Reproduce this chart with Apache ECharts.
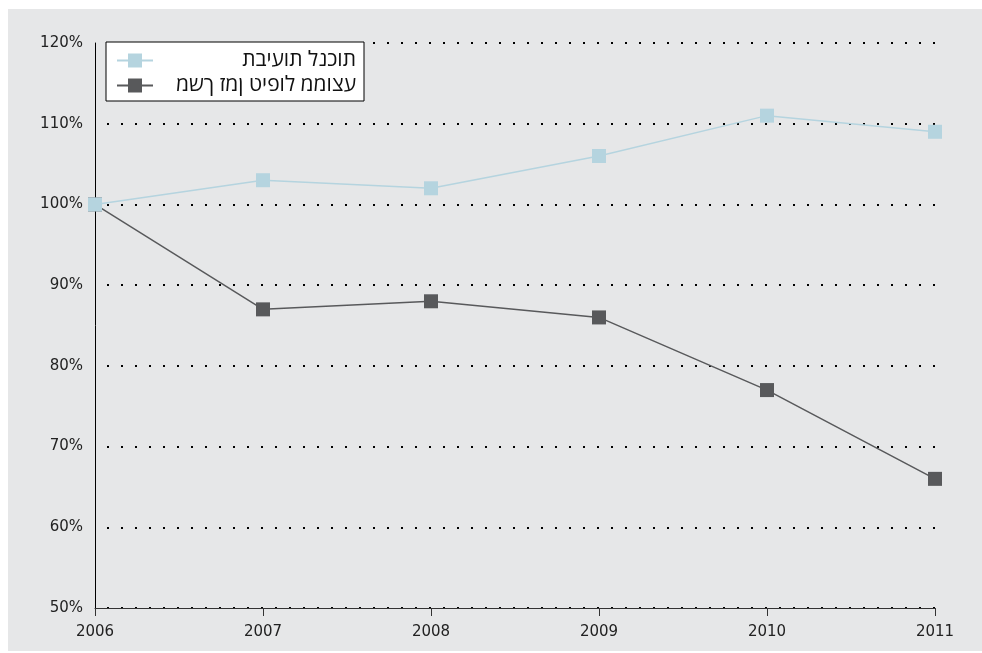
<!DOCTYPE html>
<html>
<head>
<meta charset="utf-8">
<script src="https://cdn.jsdelivr.net/npm/echarts@6/dist/echarts.min.js"></script>
<style>
  html, body { margin: 0; padding: 0; background: #fff; }
  #chart { position: absolute; left: 8px; top: 9px; width: 974px; height: 642px; background: #e6e7e8; }
</style>
</head>
<body>
<div id="chart"></div>
<script>
// נתונים
var years = ['2006', '2007', '2008', '2009', '2010', '2011'];
var claimsName = 'תביעות לנכות';
var durationName = 'משך זמן טיפול ממוצע';
var claims = [100, 103, 102, 106, 111, 109];
var duration = [100, 87, 88, 86, 77, 66];

var chart = echarts.init(document.getElementById('chart'));
chart.setOption({
  animation: false,
  textStyle: { fontFamily: 'DejaVu Sans' },
  grid: { left: 87, right: 47, top: 34, bottom: 43 },
  legend: {
    left: 98, top: 33,
    orient: 'vertical',
    data: [claimsName, durationName],
    backgroundColor: '#fff',
    borderColor: '#000',
    borderWidth: 1,
    borderRadius: 0,
    padding: [8, 8, 5, 10],
    itemWidth: 36,
    itemHeight: 17.5,
    itemGap: 4,
    // same glyph order as the original picture (left to right)
    formatter: function (name) { return '{t|\u202D' + name + '\u202C}'; },
    textStyle: {
      color: '#111',
      fontSize: 21,
      fontFamily: 'Open Sans',
      rich: { t: { width: 198, align: 'right', fontSize: 21, fontFamily: 'Open Sans', color: '#111' } }
    }
  },
  xAxis: {
    type: 'category',
    data: years,
    boundaryGap: false,
    axisLine: { lineStyle: { color: '#333', width: 1 } },
    axisTick: { show: true, length: 8, lineStyle: { color: '#333' } },
    axisLabel: { color: '#222', fontSize: 15, margin: 17 }
  },
  yAxis: {
    type: 'value',
    min: 50, max: 120, interval: 10,
    axisLine: { show: true, lineStyle: { color: '#000', width: 1 } },
    axisTick: { show: false },
    axisLabel: { color: '#222', fontSize: 15, margin: 12, formatter: '{value}%' },
    splitLine: { show: true, lineStyle: { color: '#000', width: 2, type: [2, 12], dashOffset: 2 } }
  },
  series: [
    {
      name: durationName,
      type: 'line',
      data: duration,
      symbol: 'rect',
      symbolSize: 14,
      itemStyle: { color: '#58595b' },
      lineStyle: { color: '#58595b', width: 1.5 }
    },
    {
      name: claimsName,
      type: 'line',
      data: claims,
      symbol: 'rect',
      symbolSize: 14,
      itemStyle: { color: '#b5d4df' },
      lineStyle: { color: '#b5d4df', width: 1.5 }
    }
  ]
});
</script>
</body>
</html>
